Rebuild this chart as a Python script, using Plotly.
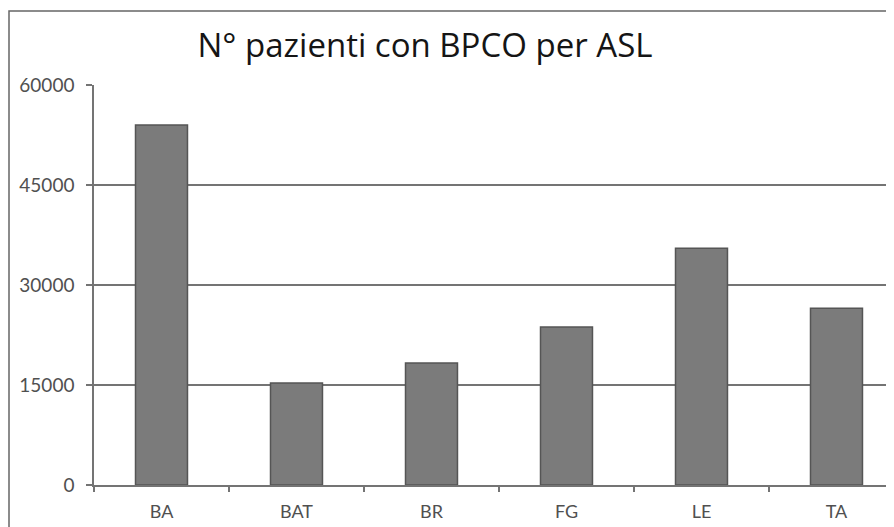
import plotly.graph_objects as go

asl = ['BA', 'BAT', 'BR', 'FG', 'LE', 'TA']
pazienti = [54000, 15300, 18300, 23700, 35500, 26500]
y_ticks = [0, 15000, 30000, 45000, 60000]

fig = go.Figure()

fig.add_trace(go.Bar(
    x=asl,
    y=pazienti,
    marker=dict(color='#7b7b7b', line=dict(color='#555555', width=1.5)),
    showlegend=False,
))

text_gray = '#505050'
line_gray = '#747474'

# the page body adds an 8px margin, so the figure is 8px smaller
fig.update_layout(
    width=886,
    height=519,
    margin=dict(l=86, r=0, t=77, b=42),
    paper_bgcolor='white',
    plot_bgcolor='white',
    bargap=0.615,
    font=dict(family='Lato', color=text_gray),
    title=dict(
        text='N° pazienti con BPCO per ASL',
        x=417 / 886, xref='container', xanchor='center',
        y=1 - 37 / 519, yref='container', yanchor='middle',
        font=dict(family='Open Sans', size=33, color='#151515'),
    ),
    xaxis=dict(
        range=[-0.5, 5.426],
        showline=True, linecolor=line_gray, linewidth=1.5,
        ticks='outside', tickson='boundaries', ticklen=5,
        tickcolor=line_gray, tickwidth=1.5,
        tickfont=dict(size=18, color=text_gray),
        ticklabelstandoff=10,
        showgrid=False,
    ),
    yaxis=dict(
        range=[0, 60000],
        tickvals=y_ticks,
        ticktext=[str(v) for v in y_ticks],
        showline=True, linecolor=line_gray, linewidth=1.5,
        ticks='outside', ticklen=6, tickcolor=line_gray, tickwidth=1.5,
        tickfont=dict(size=19, color=text_gray),
        ticklabelstandoff=8,
        showgrid=True, gridcolor=line_gray, gridwidth=1.8,
        zeroline=False,
    ),
)

# chart frame like the spreadsheet chart border
fig.add_shape(
    type='rect', xref='paper', yref='paper',
    x0=(1 - 86) / 800, x1=1.2, y0=-(42 + 10) / 400, y1=1 + (77 - 3) / 400,
    line=dict(color='#666666', width=1.5),
    layer='below',
)

fig.write_html('out.html')
